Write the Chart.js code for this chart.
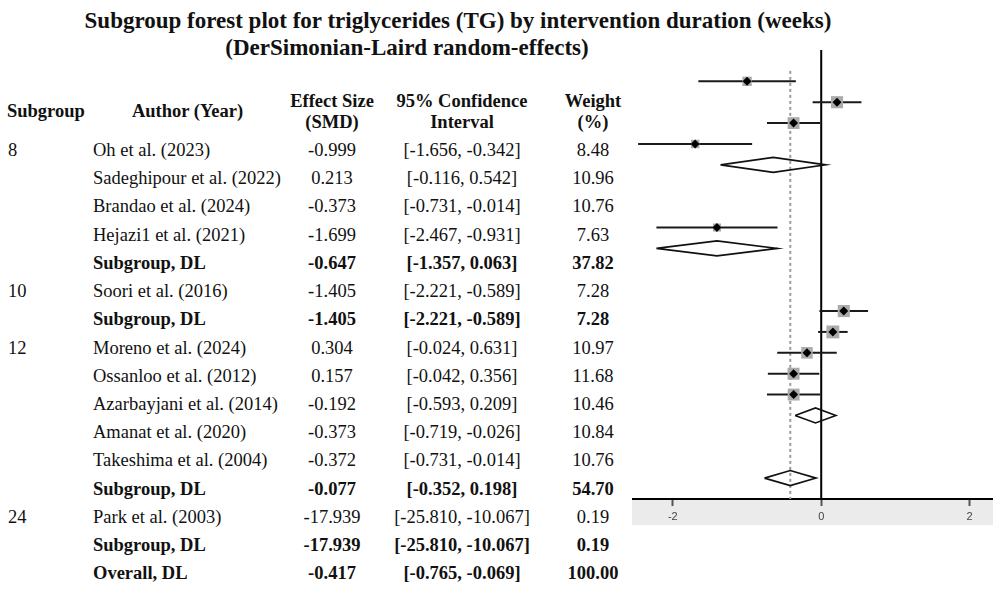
<!DOCTYPE html>
<html>
<head>
<meta charset="utf-8">
<title>Subgroup forest plot for triglycerides (TG)</title>
<script src="https://cdn.jsdelivr.net/npm/chart.js@4.4.1/dist/chart.umd.min.js"></script>
<style>
    body {
        margin: 0;
        width: 1000px;
        height: 599px;
        position: relative;
        overflow: hidden;
        background: #fff;
        color: #111;
        font-family: 'Liberation Serif', 'Times New Roman', serif;
    }
    .title {
        position: absolute;
        font-weight: bold;
        font-size: 23px;
        line-height: 28px;
        white-space: nowrap;
        transform: translateX(-50%);
    }
    .t {
        position: absolute;
        font-size: 18.5px;
        line-height: 28px;
        white-space: nowrap;
    }
    .b { font-weight: bold; }
    .c { transform: translateX(-50%); }
    #plot {
        position: absolute;
        left: 632px;
        top: 50px;
        width: 361px;
        height: 475px;
    }
</style>
</head>
<body>
    <div class="title" style="left:458px; top:6.5px;">Subgroup forest plot for triglycerides (TG) by intervention duration (weeks)</div>
    <div class="title" style="left:407px; top:34px;">(DerSimonian-Laird random-effects)</div>
    <div id="table"></div>
    <div id="plot"><canvas id="forest"></canvas></div>

<script>
    // studies
    const studyGroup = ['8', '8', '8', '8', '10', '12', '12', '12', '12', '12', '24'];
    const studyNames = ['Oh et al. (2023)', 'Sadeghipour et al. (2022)', 'Brandao et al. (2024)', 'Hejazi1 et al. (2021)',
                        'Soori et al. (2016)',
                        'Moreno et al. (2024)', 'Ossanloo et al. (2012)', 'Azarbayjani et al. (2014)', 'Amanat et al. (2020)', 'Takeshima et al. (2004)',
                        'Park et al. (2003)'];
    const studyES = [-0.999, 0.213, -0.373, -1.699, -1.405, 0.304, 0.157, -0.192, -0.373, -0.372, -17.939];
    const studyLo = [-1.656, -0.116, -0.731, -2.467, -2.221, -0.024, -0.042, -0.593, -0.719, -0.731, -25.810];
    const studyHi = [-0.342, 0.542, -0.014, -0.931, -0.589, 0.631, 0.356, 0.209, -0.026, -0.014, -10.067];
    const studyWt = [8.48, 10.96, 10.76, 7.63, 7.28, 10.97, 11.68, 10.46, 10.84, 10.76, 0.19];

    // subgroup pooled estimates (DL)
    const groupNames = ['8', '10', '12', '24'];
    const groupES = [-0.647, -1.405, -0.077, -17.939];
    const groupLo = [-1.357, -2.221, -0.352, -25.810];
    const groupHi = [0.063, -0.589, 0.198, -10.067];
    const groupWt = [37.82, 7.28, 54.70, 0.19];

    // overall
    const overallES = -0.417;
    const overallLo = -0.765;
    const overallHi = -0.069;
    const overallWt = 100.00;

    const xTicks = [-2, 0, 2];
    const xMin = -2.55, xMax = 2.315;

    // ---------- table text ----------
    const table = document.getElementById('table');
    function put(text, x, y, cls) {
        const d = document.createElement('div');
        d.className = 't ' + (cls || '');
        d.style.left = x + 'px';
        d.style.top = (y - 14) + 'px';
        d.textContent = text;
        table.appendChild(d);
    }
    const colSub = 8, colName = 93, colES = 332, colCI = 462, colWt = 593;

    put('Subgroup', 7, 110.7, 'b');
    put('Author (Year)', 187.5, 110.7, 'b c');
    put('Effect Size', colES, 100.7, 'b c');
    put('(SMD)', colES, 121.7, 'b c');
    put('95% Confidence', colCI, 100.7, 'b c');
    put('Interval', colCI, 121.7, 'b c');
    put('Weight', colWt, 100.7, 'b c');
    put('(%)', colWt, 121.7, 'b c');

    const f3 = v => v.toFixed(3);
    const ci = (lo, hi) => '[' + f3(lo) + ', ' + f3(hi) + ']';

    let rowIdx = 0;
    const rowY = i => 150 + 28.22 * i;
    function tableRow(sub, name, es, lo, hi, wt, bold) {
        const y = rowY(rowIdx++);
        const b = bold ? 'b' : '';
        if (sub) put(sub, colSub, y, '');
        put(name, colName, y, b);
        put(f3(es), colES, y, b + ' c');
        put(ci(lo, hi), colCI, y, b + ' c');
        put(wt.toFixed(2), colWt, y, b + ' c');
    }
    groupNames.forEach((g, gi) => {
        let first = true;
        studyGroup.forEach((sg, si) => {
            if (sg !== g) return;
            tableRow(first ? g : '', studyNames[si], studyES[si], studyLo[si], studyHi[si], studyWt[si], false);
            first = false;
        });
        tableRow('', 'Subgroup, DL', groupES[gi], groupLo[gi], groupHi[gi], groupWt[gi], true);
    });
    tableRow('', 'Overall, DL', overallES, overallLo, overallHi, overallWt, true);

    // ---------- forest plot ----------
    // subgroups lying entirely outside the axis range are left out of the plot
    const ciLines = [], boxes = [], diamonds = [];
    let r = 1;
    groupNames.forEach((g, gi) => {
        if (groupHi[gi] < xMin) return;
        studyGroup.forEach((sg, si) => {
            if (sg !== g) return;
            ciLines.push([{x: studyLo[si], y: r}, {x: studyHi[si], y: r}]);
            boxes.push({x: studyES[si], y: r, w: studyWt[si]});
            r++;
        });
        diamonds.push({es: groupES[gi], lo: groupLo[gi], hi: groupHi[gi], y: r});
        r += 3;
    });
    diamonds.push({es: overallES, lo: overallLo, hi: overallHi, y: r});

    const dh = 0.36;
    const datasets = [];
    datasets.push({
        data: boxes, pointStyle: 'rectRot', pointRadius: 4.5,
        backgroundColor: '#000', borderWidth: 0, order: 0
    });
    datasets.push({
        data: boxes, pointStyle: 'rect', pointRadius: c => c.raw ? c.raw.w * 0.78 : 0,
        backgroundColor: '#ababab', borderWidth: 0, order: 1
    });
    ciLines.forEach(pts => datasets.push({
        data: pts, showLine: true, pointRadius: 0, borderColor: '#1a1a1a', borderWidth: 2, order: 2
    }));
    diamonds.forEach(d => datasets.push({
        data: [{x: d.lo, y: d.y}, {x: d.es, y: d.y - dh}, {x: d.hi, y: d.y}, {x: d.es, y: d.y + dh}, {x: d.lo, y: d.y}],
        showLine: true, pointRadius: 0, borderColor: '#111', borderWidth: 1.6, fill: false, order: 2
    }));
    datasets.push({
        data: [{x: 0, y: -0.5}, {x: 0, y: 21}], showLine: true, pointRadius: 0,
        borderColor: '#000', borderWidth: 2, order: 3
    });
    datasets.push({
        data: [{x: overallES, y: 0.5}, {x: overallES, y: 21}], showLine: true, pointRadius: 0,
        borderColor: '#9a9a9a', borderWidth: 2, borderDash: [3, 3], order: 4
    });

    const bandPlugin = {
        id: 'band',
        beforeDraw(chart) {
            const a = chart.chartArea, ctx = chart.ctx;
            ctx.save();
            ctx.fillStyle = '#ebebeb';
            ctx.fillRect(a.left, a.bottom, a.right - a.left, 26);
            ctx.restore();
        }
    };

    new Chart(document.getElementById('forest'), {
        type: 'scatter',
        data: { datasets: datasets },
        options: {
            responsive: true,
            maintainAspectRatio: false,
            animation: false,
            events: [],
            layout: { padding: 0, autoPadding: false },
            plugins: { legend: { display: false }, tooltip: { enabled: false } },
            scales: {
                x: {
                    type: 'linear', min: xMin, max: xMax,
                    afterBuildTicks: s => { s.ticks = xTicks.map(v => ({ value: v })); },
                    afterFit: s => { s.height = 26; },
                    grid: { drawOnChartArea: false, drawTicks: true, tickLength: 7, tickColor: '#555', tickWidth: 2 },
                    border: { display: true, color: '#000', width: 2 },
                    ticks: { padding: 4, color: '#444', font: { family: 'Liberation Sans', size: 11 } }
                },
                y: { type: 'linear', min: -0.5, max: 21, reverse: true, display: false }
            }
        },
        plugins: [bandPlugin]
    });
</script>
</body>
</html>
